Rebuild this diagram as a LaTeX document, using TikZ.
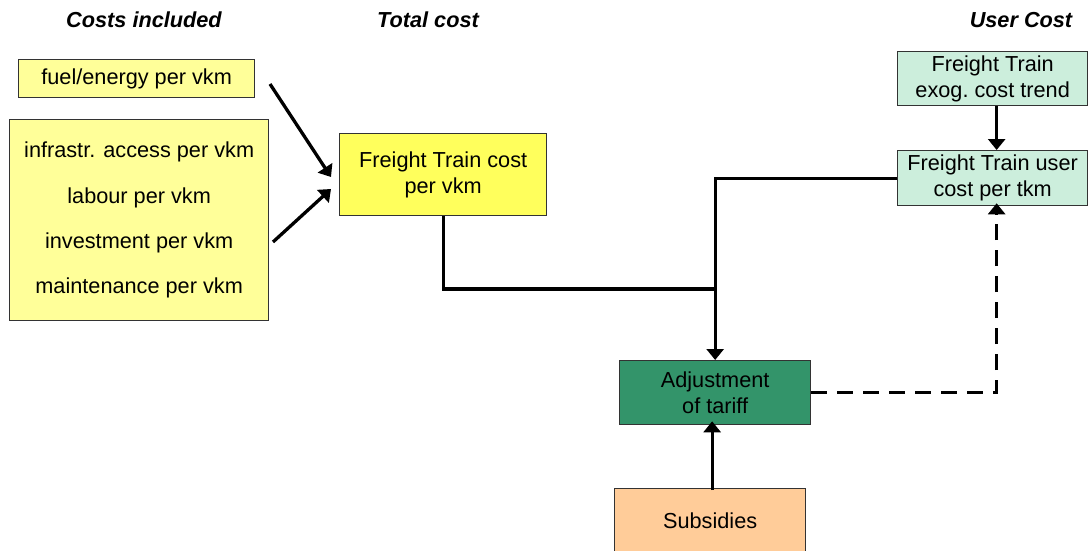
\documentclass[tikz,border=0pt]{standalone}
\usepackage{fontspec}
\setmainfont{Liberation Sans}
\usetikzlibrary{arrows.meta}
\definecolor{paleyellow}{HTML}{FFFF99}
\definecolor{costyellow}{HTML}{FFFF5C}
\definecolor{palegreen}{HTML}{CCEEDC}
\definecolor{deepgreen}{HTML}{33946A}
\definecolor{peach}{HTML}{FFCC99}
\definecolor{edge}{HTML}{333333}
\begin{document}
\begin{tikzpicture}[x=1pt,y=-1pt,
  box/.style={draw=edge, line width=1.3pt, anchor=north west, inner sep=0pt,
    align=center, font=\fontsize{21.7}{26}\selectfont},
  heading/.style={font=\fontsize{21.7}{26}\selectfont\bfseries\itshape},
  link/.style={line width=3.3pt, -{Triangle[width=17pt,length=11pt]}},
  plain/.style={line width=3.3pt},
  feedback/.style={line width=3.3pt, dash pattern=on 16pt off 10pt,
    -{Triangle[width=17pt,length=11pt]}}]
\useasboundingbox (0,0) rectangle (1088,551);

% column headings
\node[heading] (h1) at (144,20) {Costs included};
\node[heading] (h2) at (428,20) {Total cost};
\node[heading] (h3) at (1021,20) {User Cost};

% cost components
\node[box, fill=paleyellow, minimum width=236pt, minimum height=38pt] (fuel) at (18,59) {fuel/energy per vkm};
\node[box, fill=paleyellow, minimum width=259pt, minimum height=201pt,
  font=\fontsize{21.7}{45.3}\selectfont] (other) at (9,119)
  {infrastr. access per vkm\\labour per vkm\\investment per vkm\\maintenance per vkm};

% total cost
\node[box, fill=costyellow, minimum width=207pt, minimum height=82pt] (ftc) at (339,133) {Freight Train cost\\per vkm};

% user cost
\node[box, fill=palegreen, minimum width=190pt, minimum height=54pt] (exog) at (897,51) {\raisebox{-2pt}{Freight Train}\\\raisebox{-2pt}{exog.\ cost trend}};
\node[box, fill=palegreen, minimum width=190pt, minimum height=55pt] (user) at (897,150) {\raisebox{-2pt}{Freight Train user}\\\raisebox{-2pt}{cost per tkm}};

% tariff and subsidies
\node[box, fill=deepgreen, minimum width=191pt, minimum height=64pt] (adj) at (619,360) {Adjustment\\of tariff};
\node[box, fill=peach, minimum width=191pt, minimum height=64pt] (sub) at (614,488) {Subsidies};

% connectors
\coordinate (fuelend) at (270,84);
\coordinate (fueltip) at (331,177);
\coordinate (otherend) at (273,242);
\coordinate (othertip) at (331,189);
\draw[link] (fuelend) -- (fueltip);
\draw[link] (otherend) -- (othertip);

\coordinate (join) at (adj.north |- 0,289);
\draw[plain] (ftc.south) |- (join);
\draw[link] (user.west) -| (adj.north);

\draw[link] ([xshift=4pt]exog.south) -- ([xshift=4pt]user.north);
\draw[feedback] (adj.east) -| ([xshift=4pt,yshift=3pt]user.south);
\coordinate (subtop) at ([xshift=2pt,yshift=-2pt]sub.north);
\coordinate (adjbottom) at ([yshift=4pt]adj.south);
\draw[link] (subtop) -- (subtop |- adjbottom);
\end{tikzpicture}
\end{document}
